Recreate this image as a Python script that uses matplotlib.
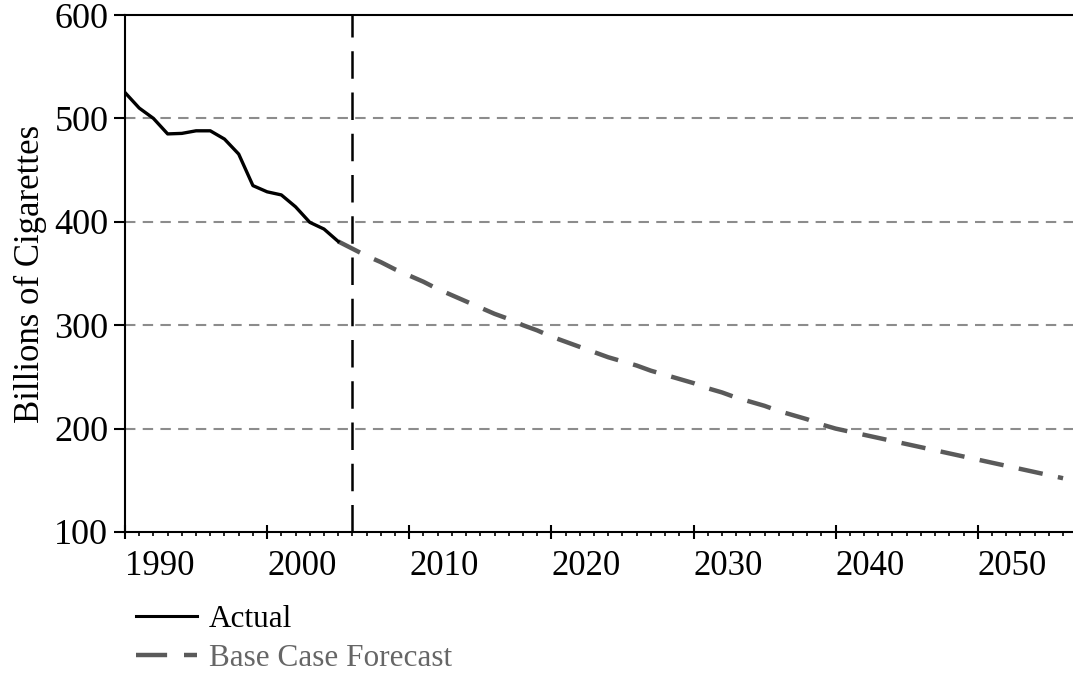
# Consumo de cigarrillos: serie real y pronóstico base
import matplotlib
matplotlib.use('Agg')

import matplotlib.pyplot as plt
from matplotlib.lines import Line2D

plt.rcParams['font.family'] = ['Liberation Serif', 'DejaVu Serif']

# Datos
anios_real = list(range(1990, 2006))
valores_real = [525, 510, 500, 485, 485.5, 488, 488, 480, 465.5, 435,
                429, 426, 414.5, 399.5, 393, 381]

anios_pron = list(range(2005, 2057))
valores_pron = [381, 374, 367, 361, 354, 348, 342, 335, 329, 323,
                317, 311, 306, 300, 295, 289, 284, 279, 274, 269,
                265, 261, 256, 252, 248, 244, 239, 235, 230, 226,
                222, 217, 213, 209, 204, 200, 197, 194, 191, 188,
                185, 182, 179, 176, 173, 170, 167, 164, 161, 158,
                155, 152]

anio_corte = 2006
yticks = [100, 200, 300, 400, 500, 600]
xticks = [1990, 2000, 2010, 2020, 2030, 2040, 2050]

fig = plt.figure(figsize=(10.73, 6.73), dpi=100)
ax = fig.add_axes([125 / 1073, 1 - 532 / 673, 1 - 125 / 1073, (532 - 15) / 673])

# Líneas de cuadrícula horizontales
for v in yticks[1:-1]:
    ax.axhline(v, color='#8c8c8c', lw=1.5, ls=(0, (5, 3.5)), zorder=1)

# Línea vertical de corte
ax.axvline(anio_corte, color='black', lw=1.8, ls=(0, (11, 5.5)), zorder=2)

ax.plot(anios_real, valores_real, color='black', lw=2.4, zorder=4)
ax.plot(anios_pron, valores_pron, color='#5a5a5a', lw=3.2,
        ls=(0, (5.5, 3.5)), zorder=3)

ax.set_xlim(1990, 2056.7)
ax.set_ylim(100, 600)

ax.spines['right'].set_visible(False)
for s in ['left', 'bottom', 'top']:
    ax.spines[s].set_linewidth(1.5)

ax.set_yticks(yticks)
ax.set_xticks(xticks)
ax.set_xticks(range(1990, 2057), minor=True)
ax.tick_params(axis='y', direction='out', length=8, width=1.5,
               labelsize=26, pad=4)
ax.tick_params(axis='x', which='major', direction='inout', length=10,
               width=1.5, labelsize=25, pad=8)
ax.tick_params(axis='x', which='minor', direction='out', length=3, width=1.2)
for lab in ax.get_xticklabels():
    lab.set_horizontalalignment('left')

ax.set_ylabel('Billions of Cigarettes', fontsize=25, labelpad=5)

# Leyenda debajo del gráfico
handles = [Line2D([], [], color='black', lw=2.2),
           Line2D([], [], color='#5a5a5a', lw=3.2, ls=(0, (7, 3.8)))]
leg = fig.legend(handles, ['Actual', 'Base Case Forecast'],
                 loc='upper left', bbox_to_anchor=(108 / 1073, 1 - 577 / 673),
                 frameon=False, fontsize=22.5, handlelength=1.95,
                 handletextpad=0.38, labelspacing=0.3)
leg.get_texts()[1].set_color('#666666')

fig.savefig('out.png', dpi=100)
